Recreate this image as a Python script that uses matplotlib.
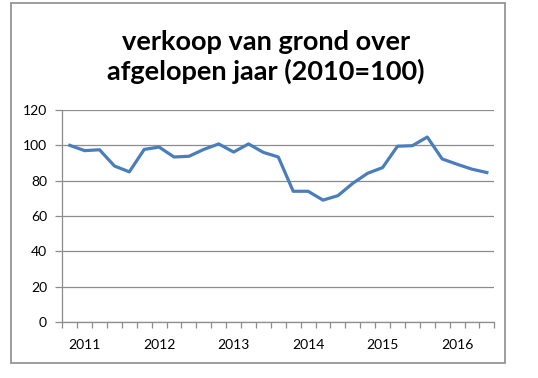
import matplotlib.pyplot as plt
from matplotlib.patches import Rectangle

# quarterly-ish index of land sales, 2010 = 100
values = [100, 97, 97.5, 88.3, 85, 97.7, 99, 93.4, 93.8, 97.7,
          100.8, 96.2, 100.8, 96, 93.4, 74, 74, 69, 71.5, 78.5,
          84.2, 87.4, 99.5, 99.8, 104.7, 92.3, 89.3, 86.5, 84.6]
categories = ['', '2011', '', '', '', '', '2012', '', '', '', '',
              '2013', '', '', '', '', '2014', '', '', '', '',
              '2015', '', '', '', '', '2016', '', '']
yticks = [0, 20, 40, 60, 80, 100, 120]
title = 'verkoop van grond over\nafgelopen jaar (2010=100)'

plt.rcParams['font.family'] = ['Lato', 'DejaVu Sans']
grey = '#8c8c8c'

fig = plt.figure(figsize=(5.38, 3.78), dpi=100)
ax = fig.add_axes([62.3 / 538, 56 / 378, 432 / 538, 212 / 378])

x = list(range(len(values)))
ax.plot(x, values, color='#4a7ebb', lw=2.3, solid_joinstyle='round')

ax.set_xlim(-0.5, len(values) - 0.5)
ax.set_ylim(0, 120)
ax.set_yticks(yticks)
ax.set_yticklabels([str(v) for v in yticks], fontsize=10)
ax.yaxis.grid(True, color=grey, lw=0.9)
ax.set_axisbelow(True)

# category boundaries get the tick marks, labels sit on the categories
ax.set_xticks([i - 0.5 for i in range(len(values) + 1)])
ax.set_xticklabels([])
for i, lab in enumerate(categories):
    if lab:
        ax.text(i, -9.5, lab, ha='center', va='top', fontsize=10,
                transform=ax.transData)

ax.tick_params(axis='x', length=4, color=grey, width=0.9)
ax.tick_params(axis='y', length=5, color=grey, width=0.9, pad=6)
for side in ['top', 'right']:
    ax.spines[side].set_visible(False)
for side in ['left', 'bottom']:
    ax.spines[side].set_color(grey)
    ax.spines[side].set_linewidth(0.9)

fig.text(266 / 538, 1 - 57 / 378, title, ha='center', va='center',
         fontsize=19.5, fontweight='bold', linespacing=1.2)

fig.patches.append(Rectangle((11 / 538, 15 / 378), 494 / 538, 360 / 378,
                             transform=fig.transFigure, fill=False,
                             edgecolor=grey, lw=1.2))

fig.savefig('out.png', dpi=100)
